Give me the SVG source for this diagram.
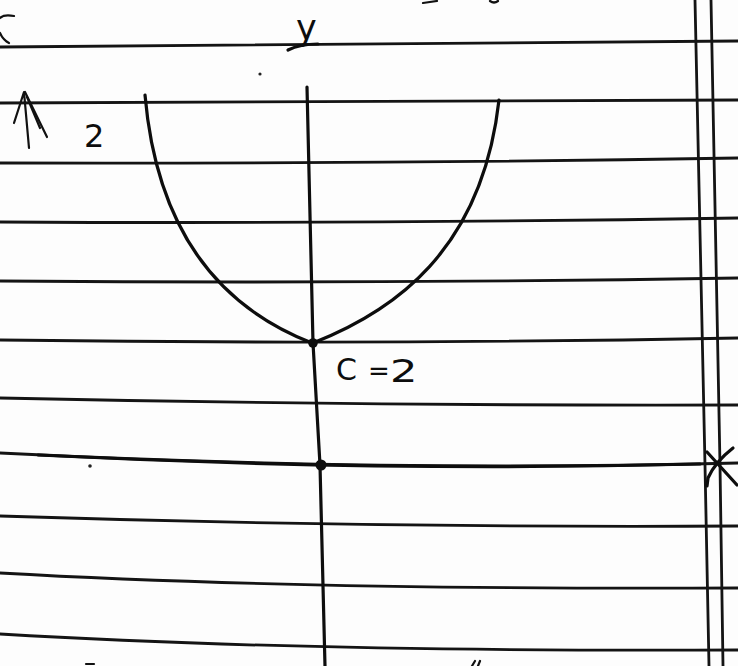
<svg xmlns="http://www.w3.org/2000/svg" width="738" height="666" viewBox="0 0 738 666">
<style>
.rule{fill:none;stroke:#141414;stroke-width:2.8;stroke-linecap:round}
.ink{fill:none;stroke:#0d0d0d;stroke-width:3.2;stroke-linecap:round;stroke-linejoin:round}
.thin{fill:none;stroke:#111;stroke-width:2.2;stroke-linecap:round;stroke-linejoin:round}
.lbl{font-family:"DejaVu Sans","Liberation Sans",sans-serif;fill:#0d0d0d}
</style>
<rect width="738" height="666" fill="#fdfdfd"/>
<g id="paper">
<path class="rule" d="M0 47 L738 41"/>
<path class="rule" d="M0 103 L738 100"/>
<path class="rule" d="M0 163 Q369 164 738 158"/>
<path class="rule" d="M0 222 Q369 224 738 218"/>
<path class="rule" d="M0 281 Q369 284 738 278"/>
<path class="rule" d="M0 340 Q369 345 738 338"/>
<path class="rule" d="M0 398 Q369 406 738 405"/>
<path class="rule" d="M0 453 Q380 472 738 463"/>
<path class="rule" d="M0 516 Q369 528 738 526"/>
<path class="rule" d="M0 573 Q300 590 738 588"/>
<path class="rule" d="M0 634 Q300 652 738 650"/>
<path class="rule" d="M695 0 L705 465 L709 666"/>
<path class="rule" d="M711 0 L720 465 L723 666"/>
</g>
<g id="axes">
<path class="ink" d="M307 87 L313 343 L320 465 L325 666"/>
<path class="ink" stroke-width="4.5" d="M38 455 Q380 472 700 464"/>
</g>
<g id="parabola">
<path class="ink" d="M145 95 C158 245 232 312 312 343"/>
<path class="ink" d="M313 343 C392 312 482 252 499 100"/>
<circle cx="313" cy="343" r="4.8" fill="#0d0d0d"/>
<circle cx="321" cy="465" r="5.5" fill="#0d0d0d"/>
</g>
<g id="y-label">
<text class="lbl" x="296" y="40" font-size="35">y</text>
<path class="ink" d="M318 44 Q300 44 288 50"/>
</g>
<g id="c-label">
<text class="lbl" font-size="30" x="336" y="380">C</text>
<text class="lbl" font-size="26" x="368" y="380">=</text>
<text class="lbl" font-size="32" x="390" y="382" transform="translate(390 0) scale(1.35 1) translate(-390 0)">2</text>
</g>
<g id="two-label">
<text class="lbl" font-size="32" x="84" y="147">2</text>
</g>
<g id="arrow">
<path class="thin" d="M29 148 L24 92 L14 123"/>
<path class="thin" d="M25 92 L47 137"/>
<path class="thin" d="M27 97 L40 128"/>
</g>
<g id="marks">
<path class="thin" d="M14 16 Q4 14 0 18"/>
<path class="thin" d="M0 33 Q3 40 9 43"/>
<path class="thin" d="M423 3 L437 1"/>
<path class="thin" d="M490 1 Q494 4 498 1"/>
<path class="thin" d="M86 664 L94 664"/>
<path class="thin" d="M472 666 L475 661"/>
<path class="thin" d="M478 666 L480 661"/>
<path class="ink" d="M707 452 L737 485"/>
<path class="ink" d="M733 448 Q715 462 708 478 L707 486"/>
<circle cx="260" cy="74" r="1.6" fill="#222"/>
<circle cx="90" cy="466" r="1.8" fill="#222"/>
</g>
</svg>
